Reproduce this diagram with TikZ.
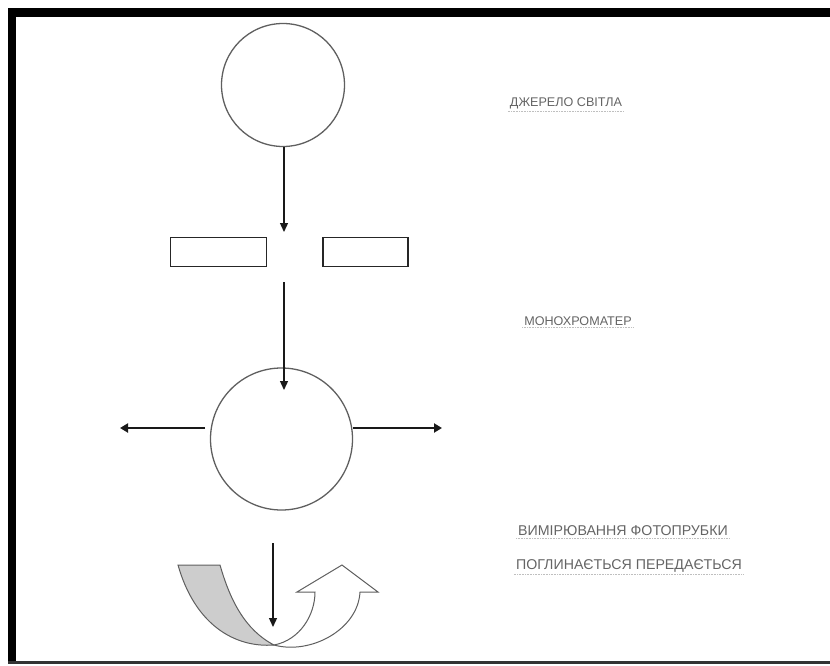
\documentclass[tikz,border=0pt]{standalone}
\usepackage{fontspec}
\setmainfont{Liberation Sans}
\usetikzlibrary{arrows.meta}
\definecolor{linegray}{RGB}{95,95,95}
\definecolor{txtgray}{RGB}{100,100,100}
\definecolor{bandgray}{RGB}{205,205,205}
\tikzset{
  ring/.style={circle, draw=linegray, line width=1.3pt, inner sep=0pt},
  slit/.style={draw=black!85, line width=1.6pt, minimum width=96pt, minimum height=29pt, inner sep=0pt},
  ray/.style={draw=black!90, line width=1.3pt, -{Triangle[length=9pt,width=8pt]}},
  sideray/.style={draw=black!90, line width=2.6pt, -{Triangle[length=8pt,width=9pt]}},
  label/.style={text=txtgray, font=\fontsize{12.6}{14}\selectfont, inner sep=2pt},
  biglabel/.style={label, font=\fontsize{14.2}{16}\selectfont},
  ul/.style={draw=black!25, densely dotted, line width=0.6pt}
}
\begin{document}
\begin{tikzpicture}[x=1pt,y=-1pt]
\useasboundingbox (0,0) rectangle (830,666);
% frame
\fill[black] (8,8) rectangle (830,17);
\fill[black] (8,8) rectangle (16,663);
\fill[black!80] (8,661) rectangle (830,664);

% light source
\node[ring, minimum size=123pt] (src) at (283,85) {};
\coordinate (gap) at (284,232);
\draw[ray] (gap |- src.south) -- (gap);

% slits
\node[slit] (sl) at (218.5,252) {};
\node[slit, minimum width=85pt] (sr) at (365.5,252) {};

% sample
\node[ring, minimum size=142pt] (smp) at (281.5,439) {};
\coordinate (below) at (284,282);
\coordinate (inside) at (284,390);
\draw[ray] (below) -- (inside);
\coordinate (lstart) at (205,428);
\coordinate (lend) at (120,428);
\coordinate (rend) at (442,428);
\draw[sideray] (lstart) -- (lend);
\draw[sideray] (smp.east |- rend) -- (rend);

% detector arrow
\coordinate (dtop) at (273,543);
\coordinate (dbot) at (273,627);

% absorbed band (gray)
\filldraw[fill=bandgray, draw=linegray, line width=1pt]
  (178,565) -- (220,565)
  .. controls (230,600) and (245,630) .. (274,645)
  .. controls (235,648) and (195,625) .. (178,565) -- cycle;
% transmitted arrow (white)
\filldraw[fill=white, draw=linegray, line width=1pt]
  (274,645) .. controls (300,640) and (315,615) .. (315,592)
  -- (297,592) -- (342,565) -- (378,592) -- (360,592)
  .. controls (358,630) and (310,655) .. (274,645) -- cycle;
\draw[ray] (dtop) -- (dbot);

% labels
\node[label] (t1) at (566,103) {ДЖЕРЕЛО СВІТЛА};
\node[label] (t2) at (578,321) {МОНОХРОМАТЕР};
\node[biglabel] (t3) at (623,531) {ВИМІРЮВАННЯ ФОТОПРУБКИ};
\node[biglabel] (t4) at (629,566) {ПОГЛИНАЄТЬСЯ ПЕРЕДАЄТЬСЯ};
\foreach \t in {t1,t2,t3,t4} \draw[ul] (\t.south west) -- (\t.south east);
\end{tikzpicture}
\end{document}
